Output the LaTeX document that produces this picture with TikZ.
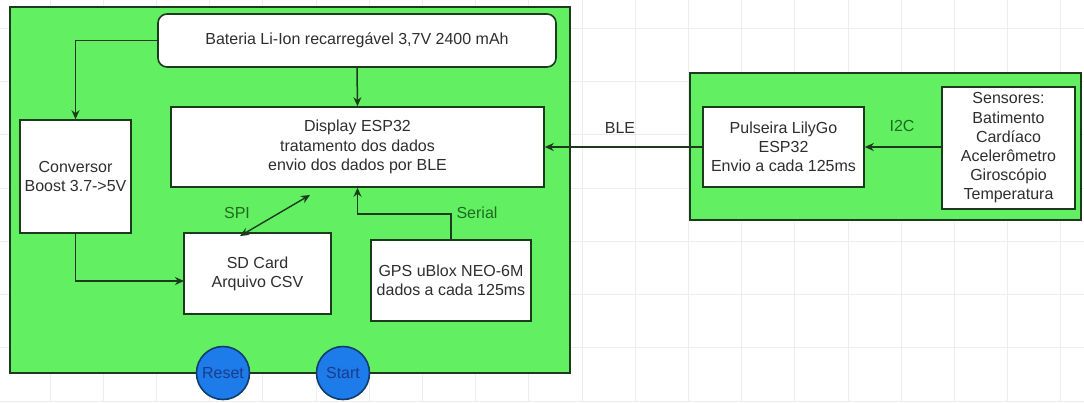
\documentclass[tikz,border=0pt]{standalone}
\usepackage{fontspec}
\setmainfont{Liberation Sans}
\usetikzlibrary{arrows.meta,calc}
\definecolor{gfill}{HTML}{62F062}
\definecolor{bord}{HTML}{1C3A1C}
\definecolor{txt}{HTML}{2E2E2E}
\definecolor{lblg}{HTML}{1E6A1E}
\definecolor{gridc}{HTML}{EDEDED}
\definecolor{btnf}{HTML}{1E7BEA}
\definecolor{btnb}{HTML}{0D3D6E}
\definecolor{btnt}{HTML}{1A3C8C}
\tikzset{
  gbox/.style={draw=bord, fill=gfill, line width=1.6pt, inner sep=0pt},
  wbox/.style={draw=bord, fill=white, line width=1.6pt, inner sep=0pt, align=center, text=txt},
  arr/.style={draw=bord, line width=1.5pt, -{Stealth[length=9pt,width=8pt]}},
  darr/.style={draw=bord, line width=1.4pt, {Stealth[length=9pt,width=8pt]}-{Stealth[length=9pt,width=8pt]}},
  lbl/.style={text=lblg, inner sep=0pt},
  btn/.style={circle, draw=btnb, fill=btnf, line width=1.6pt, minimum size=53pt, inner sep=0pt, text=btnt}
}
\begin{document}
\begin{tikzpicture}[x=1pt,y=-1pt,font=\fontsize{16}{19.2}\selectfont]
\useasboundingbox (0,0) rectangle (1084,402);
\fill[white] (0,0) rectangle (1084,402);
% grid
\foreach \gx in {50,103.2,...,1084} {\draw[gridc, line width=0.8pt] (\gx,0) -- (\gx,402);}
\foreach \gy in {28,81.3,...,402} {\draw[gridc, line width=0.8pt] (0,\gy) -- (1084,\gy);}

% main board
\node[gbox, minimum width=560pt, minimum height=366pt] (main) at (290,190) {};
\node[wbox, rounded corners=9pt, minimum width=398pt, minimum height=53pt] (bat) at (357,40.5) {Bateria Li-Ion recarregável 3,7V 2400 mAh};
\node[wbox, minimum width=373pt, minimum height=80pt] (disp) at (357.5,147) {Display ESP32\\tratamento dos dados\\envio dos dados por BLE};
\node[wbox, minimum width=111pt, minimum height=113pt] (conv) at (75.5,176.5) {Conversor\\Boost 3.7->5V};
\node[wbox, minimum width=147pt, minimum height=81pt] (sd) at (257.5,273.5) {SD Card\\Arquivo CSV};
\node[wbox, minimum width=160pt, minimum height=81pt] (gps) at (451,280.5) {GPS uBlox NEO-6M\\dados a cada 125ms};
\node[btn] (reset) at (223,373) {Reset};
\node[btn] (start) at (343,373) {Start};

% wristband
\node[gbox, minimum width=391pt, minimum height=147pt] (band) at (885.5,146.5) {};
\node[wbox, minimum width=161pt, minimum height=80pt] (puls) at (783.5,147) {Pulseira LilyGo\\ESP32\\Envio a cada 125ms};
\node[wbox, minimum width=133pt, minimum height=122pt] (sens) at (1008.5,148) {Sensores:\\Batimento\\Cardíaco\\Acelerômetro\\Giroscópio\\Temperatura};

% connectors
\draw[arr] (bat.west) -| (conv.north);
\draw[arr] (bat.south) -- (disp.north);
\coordinate (sdin) at (184,281);
\draw[arr] (conv.south) |- (sdin);
\coordinate (gpsbend) at (357.5,214);
\draw[arr] (gps.north) |- (gpsbend) -- (disp.south);
\coordinate (spiA) at (240,236);
\coordinate (spiB) at (310,195);
\draw[darr] (spiA) -- (spiB);
\draw[arr] (puls.west) -- (disp.east);
\draw[arr] (sens.west |- puls.east) -- (puls.east);

% labels
\node[lbl] (spi) at (237,213) {SPI};
\node[lbl] (serial) at (477,213) {Serial};
\node[lbl, text=txt] (ble) at (620,128) {BLE};
\node[lbl] (i2c) at (902,126) {I2C};
\end{tikzpicture}
\end{document}
